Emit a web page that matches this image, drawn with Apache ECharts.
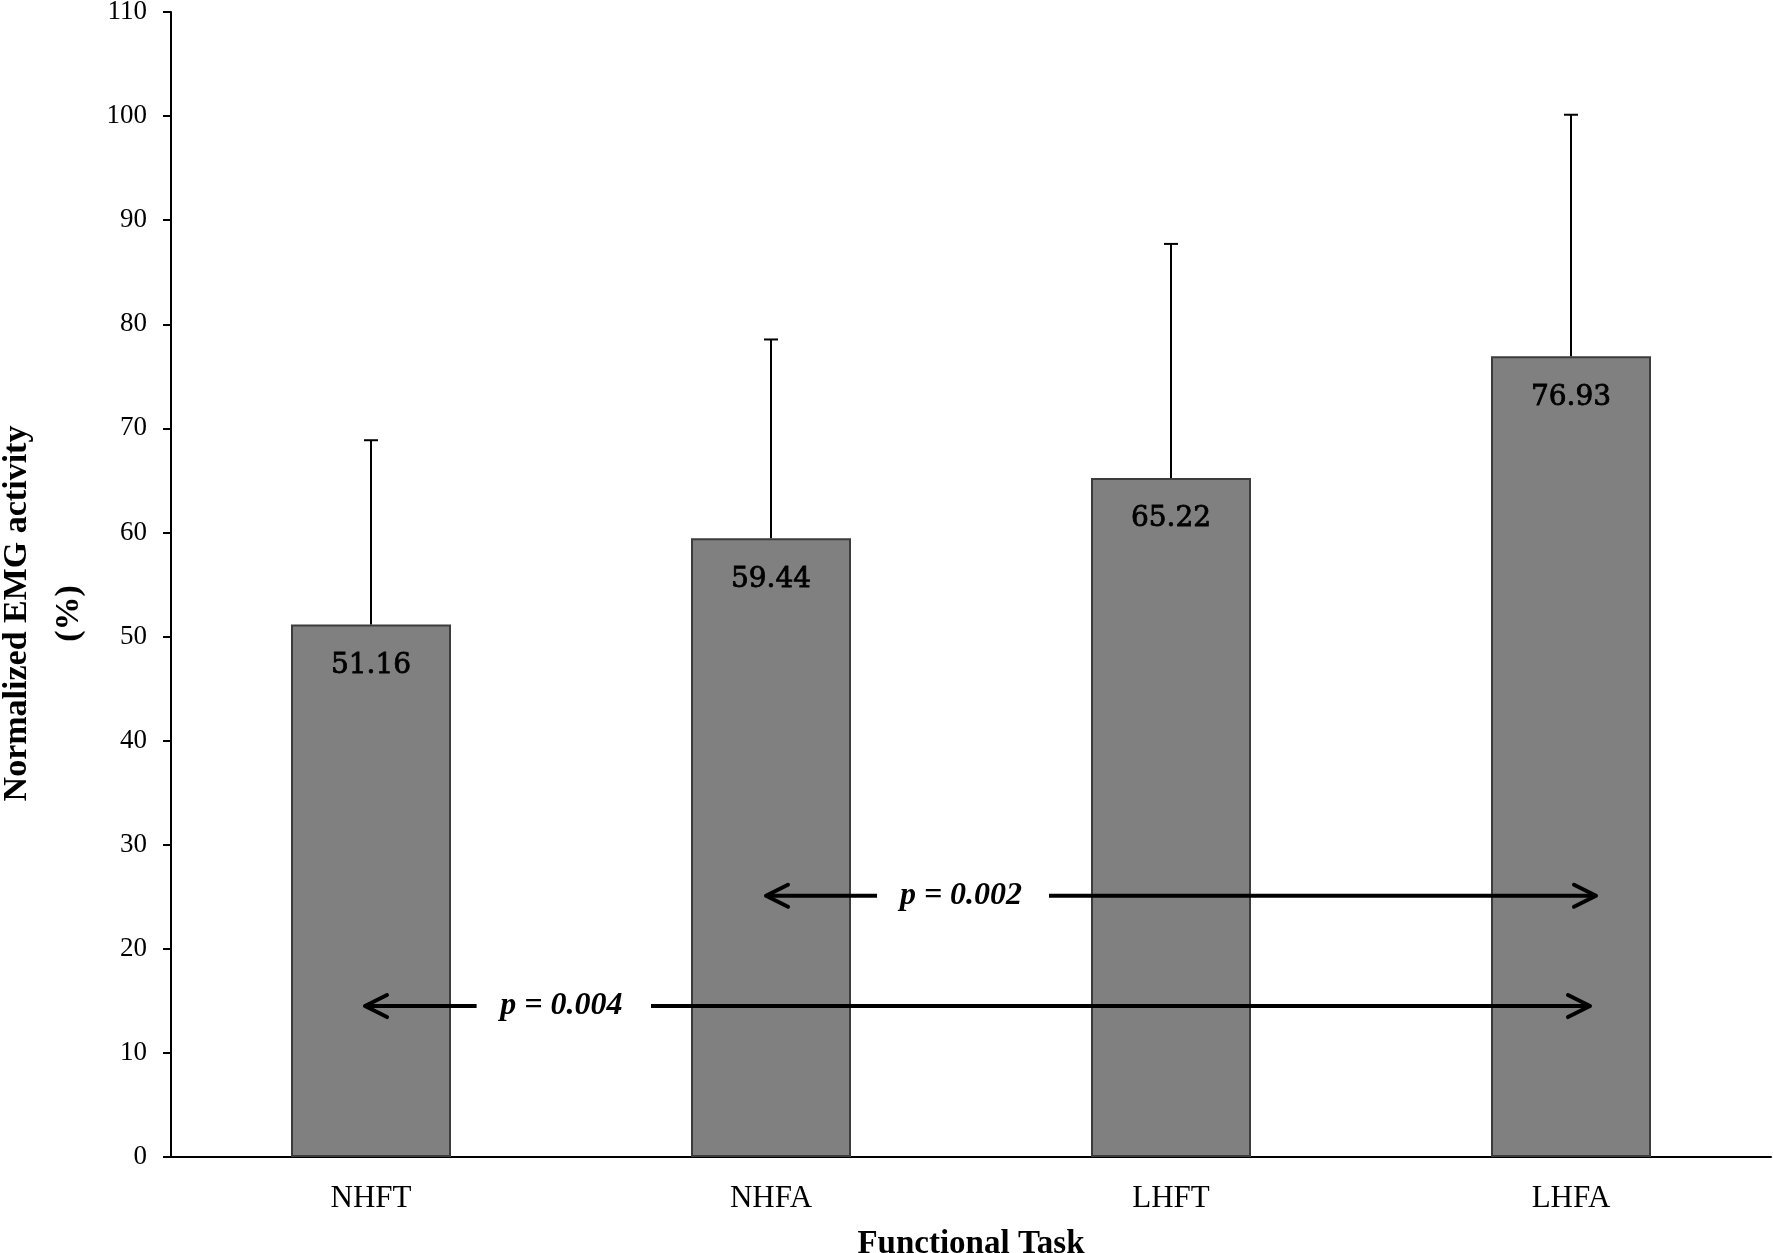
<!DOCTYPE html>
<html><head><meta charset="utf-8">
<script src="https://cdn.jsdelivr.net/npm/echarts@6/dist/echarts.min.js"></script>
<style>html,body{margin:0;padding:0;background:#fff}#c{width:1773px;height:1253px}</style>
</head><body><div id="c"></div>
<script>
// ---- data ----
const categories = ['NHFT', 'NHFA', 'LHFT', 'LHFA'];
const means = [51.16, 59.44, 65.22, 76.93];
const sds = [17.7, 19.1, 22.5, 23.2];
const yMin = 0, yMax = 110, yStep = 10;

// significance comparisons (x in category units 0..4 along the axis, y in %)
const compLabels = ['p = 0.002', 'p = 0.004'];
const compY = [25.1, 14.5];
const compFrom = [1.4875, 0.485];
const compGapStart = [1.765, 0.764];
const compGapEnd = [2.195, 1.2];
const compTo = [3.5625, 3.5475];
const compTextAt = [1.975, 0.976];

// ---- chart ----
const serif = '"Liberation Serif", "Times New Roman", serif';
const chart = echarts.init(document.getElementById('c'));

const errData = categories.map((c, i) => [i, means[i], means[i] + sds[i]]);
const compData = compLabels.map((l, i) => [compY[i], compFrom[i], compGapStart[i], compGapEnd[i], compTo[i], compTextAt[i]]);

chart.setOption({
  animation: false,
  backgroundColor: '#fff',
  grid: { left: 171, right: 2, top: 12, bottom: 96, containLabel: false, outerBoundsMode: 'none' },
  xAxis: [{
    type: 'category',
    data: categories,
    axisLine: { lineStyle: { color: '#000', width: 2 } },
    axisTick: { length: 12, lineStyle: { color: '#000', width: 2 } },
    axisLabel: { color: '#000', fontFamily: serif, fontSize: 31, margin: 26 },
    name: 'Functional Task',
    nameLocation: 'middle',
    nameGap: 71,
    nameTextStyle: { color: '#000', fontFamily: serif, fontSize: 33, fontWeight: 'bold' }
  }, {
    type: 'value', min: 0, max: categories.length, show: false
  }],
  yAxis: {
    type: 'value',
    min: yMin, max: yMax, interval: yStep,
    axisLine: { show: true, lineStyle: { color: '#000', width: 2 } },
    axisTick: { show: true, length: 8, lineStyle: { color: '#000', width: 2 } },
    splitLine: { show: false },
    axisLabel: { color: '#000', fontFamily: serif, fontSize: 27, margin: 24 },
    name: 'Normalized EMG activity\n(%)',
    nameLocation: 'middle',
    nameRotate: 90,
    nameGap: 64,
    nameTextStyle: { color: '#000', fontFamily: serif, fontSize: 34, fontWeight: 'bold', lineHeight: 52, padding: [0, 58, 0, 0] }
  },
  series: [{
    type: 'bar',
    data: means,
    barWidth: '40%',
    itemStyle: { color: '#808080', borderColor: '#3c3c3c', borderWidth: 2 },
    label: {
      show: true, position: 'insideTop', distance: 27,
      formatter: p => p.value.toFixed(2),
      color: '#000', fontFamily: '"DejaVu Serif", serif', fontSize: 28,
      textBorderColor: '#000', textBorderWidth: 0.8
    },
    z: 2
  }, {
    type: 'custom',
    data: errData,
    z: 3,
    renderItem: (params, api) => {
      const x = api.value(0);
      const p0 = api.coord([x, api.value(1)]);
      const p1 = api.coord([x, api.value(2)]);
      const st = { stroke: '#000', lineWidth: 2 };
      return {
        type: 'group',
        children: [
          { type: 'line', shape: { x1: p0[0], y1: p0[1], x2: p1[0], y2: p1[1] }, style: st },
          { type: 'line', shape: { x1: p1[0] - 7, y1: p1[1], x2: p1[0] + 7, y2: p1[1] }, style: st }
        ]
      };
    }
  }, {
    type: 'custom',
    xAxisIndex: 1,
    data: compData,
    z: 4,
    renderItem: (params, api) => {
      const y = api.value(0);
      const a = api.coord([api.value(1), y]);
      const g1 = api.coord([api.value(2), y]);
      const g2 = api.coord([api.value(3), y]);
      const b = api.coord([api.value(4), y]);
      const t = api.coord([api.value(5), y]);
      const ls = { stroke: '#000', lineWidth: 4, lineCap: 'butt' };
      const hs = { stroke: '#000', lineWidth: 4, lineCap: 'round', lineJoin: 'round', fill: null };
      const L = 22, H = 11;
      return {
        type: 'group',
        children: [
          { type: 'line', shape: { x1: a[0] + 2, y1: a[1], x2: g1[0], y2: g1[1] }, style: ls },
          { type: 'line', shape: { x1: g2[0], y1: g2[1], x2: b[0] - 2, y2: b[1] }, style: ls },
          { type: 'polyline', shape: { points: [[a[0] + L, a[1] - H], [a[0], a[1]], [a[0] + L, a[1] + H]] }, style: hs },
          { type: 'polyline', shape: { points: [[b[0] - L, b[1] - H], [b[0], b[1]], [b[0] - L, b[1] + H]] }, style: hs },
          { type: 'text', style: {
              text: compLabels[params.dataIndex], x: t[0], y: t[1],
              align: 'center', verticalAlign: 'middle', textAlign: 'center', textVerticalAlign: 'middle',
              font: 'italic bold 32px "Liberation Serif", serif', fill: '#000'
          } }
        ]
      };
    }
  }]
});
</script>
</body></html>
